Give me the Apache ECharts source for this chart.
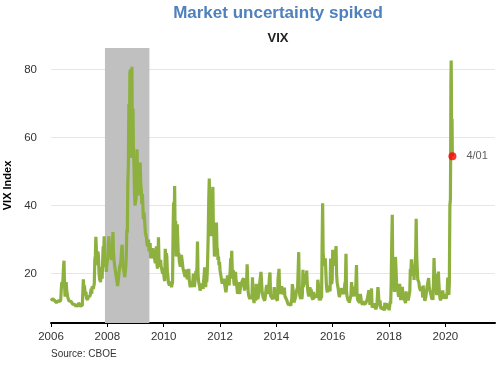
<!DOCTYPE html>
<html>
<head>
<meta charset="utf-8">
<script src="https://cdn.jsdelivr.net/npm/echarts@6/dist/echarts.min.js"></script>
<style>html,body{margin:0;padding:0;background:#fff;}#c{width:500px;height:365px;}</style>
</head>
<body>
<div id="c"></div>
<script>
// Weekly VIX readings (approximate), one array per year
var vix2006 = [12.0,12.5,12.2,12.6, 13.0,12.8,12.4,12.0, 11.8,11.6,11.4,11.3,11.5, 12.0,11.8,11.6,11.5, 11.8,12.5,15.5,17.5,16.8, 18.0,21.5,23.8,16.5, 13.2,15.0,17.5,15.0,14.5, 13.0,12.9,12.0,12.3, 12.0,11.5,11.8,11.6, 11.4,11.0,11.0,10.9,11.1, 10.9,10.7,10.3,10.5, 11.0,10.6,10.2,11.4];
var vix2007 = [11.5,11.0,10.5,10.8,10.9, 10.4,10.6,10.2,18.3, 15.5,16.5,16.8,13.5,14.6, 12.8,12.5,12.2,13.0, 13.2,13.0,12.8,13.5, 13.8,15.5,14.0,16.2,16.4, 15.5,16.0,17.0,24.0, 25.2,30.8,27.0,22.5,23.5, 26.5,25.0,20.3,18.5, 18.0,17.5,20.5,22.0,18.5, 23.5,28.0,26.0,31.0, 22.0,21.5,23.0,20.5,22.5];
var vix2008 = [23.0,25.0,29.0,31.0,26.0, 28.0,26.0,25.0,24.0, 26.5,29.0,32.2,26.0,25.5, 22.5,23.0,20.5,20.0, 18.5,17.5,16.3,17.5,18.0, 20.5,22.0,21.5,23.0, 25.0,27.5,28.5,22.5,22.0, 21.0,20.5,19.0,20.5, 22.0,25.5,33.0,32.0,46.7, 52.0,69.9,55.0,79.1,80.1, 54.0,60.0,80.9,55.0, 68.5,57.0,52.0,44.0,40.0];
var vix2009 = [40.0,42.0,46.0,56.6,44.0, 43.0,42.5,47.0,49.0, 52.7,46.5,45.0,40.5,43.5, 40.5,36.0,38.0,36.5, 36.0,32.0,32.0,30.5,28.9, 28.0,28.5,30.0,26.5, 27.0,29.0,24.5,24.0,25.9, 25.9,27.5,24.5,25.5, 25.0,24.0,23.0,26.0, 28.0,23.0,21.5,23.0,30.7, 24.0,23.0,22.0,24.0, 22.3,21.5,21.3,20.0,21.7];
var vix2010 = [20.0,18.5,17.8,27.3,24.6, 26.0,25.0,20.5,19.5, 17.4,17.5,16.5,17.0,17.6, 17.0,16.0,16.5,17.5, 32.8,40.9,34.0,45.8, 29.5,35.5,25.0,24.5,34.5, 30.0,25.0,26.0,23.5,23.5, 22.0,24.0,25.5,26.0, 23.0,21.5,22.0,21.5, 22.0,19.0,19.0,20.0,21.2, 18.3,20.6,18.5,21.4, 18.0,17.5,16.0,16.0,17.7];
var vix2011 = [17.6,16.0,16.0,20.0,19.0, 16.0,15.5,16.5,20.7, 20.0,21.9,29.4,20.0,17.8, 17.4,16.3,15.0,14.6, 15.9,17.1,17.5,17.5,15.5, 18.0,19.5,21.8,19.0, 16.0,19.0,17.5,20.0,25.3, 32.0,42.0,48.0,36.0, 35.0,38.5,31.0,41.3,42.9, 45.5,33.0,31.5,25.0,29.5, 33.0,32.0,35.0,27.8, 27.0,24.0,25.0,22.5,23.4];
var vix2012 = [21.0,20.5,19.0,18.5, 17.0,18.5,17.5,18.5,17.5, 18.0,17.5,14.5,15.5, 15.0,19.5,17.0,18.0,16.5, 19.0,20.5,24.5,22.0, 26.7,21.0,18.5,21.0, 17.5,16.5,17.0,20.5,18.5, 17.0,15.5,14.0,15.5, 17.5,15.0,14.0,15.5,15.7, 15.0,16.0,18.0,17.5, 18.6,17.5,15.0,15.9, 17.0,15.8,17.5,22.7,18.0];
var vix2013 = [14.5,13.5,13.0,12.5,13.0, 13.5,13.0,12.5,18.9, 14.0,12.5,11.3,13.5, 13.0,12.0,17.0,14.0, 13.5,12.5,12.5,14.0,16.3, 16.5,16.0,20.5,18.0, 15.0,14.0,13.0,12.5,13.5, 12.0,13.0,14.5,16.0, 16.6,14.0,14.0,15.5, 16.5,19.0,20.3,13.5,13.3, 13.0,12.9,12.5,12.6, 14.0,16.0,15.5,13.0,13.5];
var vix2014 = [13.0,12.5,12.0,18.1,18.4, 21.4,15.5,14.0,14.0, 14.0,16.3,15.0,14.5,13.9, 14.0,15.9,13.4,13.1, 13.0,12.9,12.0,11.4, 11.0,10.7,10.9,11.3,11.2, 10.5,11.8,12.5,16.9, 15.8,14.0,11.5,11.5, 12.0,13.0,14.0,15.0,15.5, 16.0,21.2,26.3,16.0, 13.5,13.0,12.5,13.3, 12.5,14.2,21.1,16.0,19.2];
var vix2015 = [19.9,17.5,19.5,16.7,20.9, 17.3,15.0,14.0,13.3, 15.2,16.0,13.5,15.4, 14.7,12.9,12.5,12.3,14.6, 12.8,12.4,12.4,13.8, 14.2,13.0,13.9,18.2, 16.8,13.0,12.2,13.0,12.1, 13.4,12.8,28.0,40.7, 26.0,24.0,22.3,23.6,24.5, 20.9,16.8,15.1,14.5, 14.3,16.4,15.5,15.1, 14.8,24.4,20.7,16.9,18.2];
var vix2016 = [27.0,24.0,22.3,23.0, 23.4,25.4,28.1,19.8,17.4, 16.9,15.5,14.0,13.1, 13.1,13.6,13.2,15.7, 14.7,15.0,15.2,14.0, 13.5,17.0,17.6,25.8,14.8, 13.2,12.7,12.0,12.7, 11.4,11.3,11.3,13.7, 17.5,15.4,13.3,13.3,13.3, 13.5,16.2,13.3,17.6, 22.5,14.2,12.3,12.5, 12.1,12.2,11.4,14.0];
var vix2017 = [12.9,11.6,11.8,10.8,11.9, 11.0,10.9,11.5,11.5, 11.2,11.7,11.3,12.5,12.4, 12.9,15.1,14.6,10.8, 10.6,10.4,15.6,10.0, 10.0,10.5,10.4,11.2,11.2, 11.2,9.5,9.4,10.3, 10.0,16.0,14.3,11.3,10.6, 12.1,10.2,9.6,9.7, 9.5,9.6,10.1,9.8, 9.1,11.4,10.5,9.9,11.3, 9.6,9.9,9.4,11.0];
var vix2018 = [9.2,10.2,11.7,11.1, 17.3,29.1,37.3,19.5,16.5, 19.9,14.6,16.1,24.9, 21.5,17.4,16.9,15.4, 15.4,13.2,13.4,17.0,13.5, 12.2,12.0,14.0,16.1, 13.4,12.2,12.9,12.9,12.8, 11.3,14.8,12.4,12.2, 13.2,12.1,11.7,12.1, 14.8,21.3,19.9,24.2,19.3, 19.5,20.1,22.5,18.1, 21.2,21.6,25.6,36.1,25.4];
var vix2019 = [21.4,18.2,17.8,17.4, 16.0,15.7,14.9,14.8, 14.6,16.1,13.0,16.5,13.7, 13.1,12.0,12.1,13.3, 12.9,16.0,16.0,16.4,18.7, 16.3,15.3,15.4,15.1, 13.3,12.4,14.5,12.2, 17.6,24.6,18.5,19.9,19.0, 15.0,13.7,15.3,16.2, 20.6,17.0,14.3,12.7, 12.1,12.1,12.5,12.6, 15.0,14.5,12.6,12.7,13.8];
var dates2020 = ['2020-01-03','2020-01-10','2020-01-17','2020-01-24','2020-01-31','2020-02-07','2020-02-14','2020-02-21','2020-02-28','2020-03-06','2020-03-09','2020-03-12','2020-03-16','2020-03-18','2020-03-20','2020-03-24','2020-03-27','2020-03-30','2020-04-01'];
var vix2020 = [14.0,12.6,12.1,14.6,18.8,15.5,13.7,17.1,40.1,41.9,54.5,75.5,82.7,76.5,66.0,61.7,65.5,57.1,54.5];

var yearStart = 2006;
var yearly = [vix2006,vix2007,vix2008,vix2009,vix2010,vix2011,vix2012,vix2013,vix2014,vix2015,vix2016,vix2017,vix2018,vix2019];
var xTicks = [2006,2008,2010,2012,2014,2016,2018,2020];
var yTicks = [20,40,60,80];
var recession = ['2007-12-01','2009-06-30'];
var markerDate = '2020-04-01';
var markerValue = 54.5;
var markerLabel = '4/01';

function decYear(s){
  var d = new Date(s + 'T00:00:00Z');
  var y = d.getUTCFullYear();
  var start = Date.UTC(y,0,1), end = Date.UTC(y+1,0,1);
  return y + (d.getTime()-start)/(end-start);
}

var seriesData = [];
yearly.forEach(function(arr, k){
  var n = arr.length;
  arr.forEach(function(v, i){ seriesData.push([yearStart + k + i/n, v]); });
});
dates2020.forEach(function(d, i){ seriesData.push([decYear(d), vix2020[i]]); });

var chart = echarts.init(document.getElementById('c'), null, {renderer:'canvas'});
var font = '"Liberation Sans", Arial, sans-serif';
chart.setOption({
  animation: false,
  title: [
    {text:'Market uncertainty spiked', left:273, top:0, textAlign:'center',
     textStyle:{fontFamily:font, fontSize:17, fontWeight:'bold', color:'#4f81bd'}},
    {text:'VIX', left:273, top:27, textAlign:'center',
     textStyle:{fontFamily:font, fontSize:13, fontWeight:'bold', color:'#222'}}
  ],
  graphic: [{type:'text', left:51, top:349, style:{text:'Source: CBOE', fontFamily:font, fontSize:10, fill:'#333'}}],
  grid: {left:51, right:5, top:48, bottom:42, containLabel:false, outerBoundsMode:'none'},
  xAxis: {
    type:'value', min:2006, max:2021.76, interval:2,
    axisLine:{show:true, lineStyle:{color:'#000', width:2}},
    axisTick:{show:true, length:4, lineStyle:{color:'#000', width:1}},
    axisLabel:{fontFamily:font, fontSize:11.5, color:'#333', margin:8, formatter:function(v){return String(v);},
      showMaxLabel:false},
    splitLine:{show:false}
  },
  yAxis: {
    type:'value', min:5.45, max:86.4,
    name:'VIX Index', nameLocation:'middle', nameGap:37, nameRotate:90,
    nameTextStyle:{fontFamily:font, fontSize:11, fontWeight:'bold', color:'#000'},
    axisLine:{show:false},
    axisTick:{show:false, customValues:yTicks},
    axisLabel:{fontFamily:font, fontSize:11.5, color:'#333', margin:14, customValues:yTicks},
    splitLine:{show:true, lineStyle:{color:'#e6e6e6', width:1}}
  },
  series: [{
    type:'line', data:seriesData, showSymbol:false, symbol:'none',
    lineStyle:{color:'#8db03f', width:3.2}, z:3,
    markArea:{silent:true, itemStyle:{color:'#c0c0c0'}, data:[[{xAxis:decYear(recession[0])},{xAxis:decYear(recession[1])}]]}
  },{
    type:'scatter', data:[[decYear(markerDate), markerValue]], symbolSize:8, z:5,
    itemStyle:{color:'#ff0000'},
    label:{show:true, position:'right', distance:10, formatter:markerLabel, fontFamily:font, fontSize:11, color:'#333'}
  }]
});
</script>
</body>
</html>
